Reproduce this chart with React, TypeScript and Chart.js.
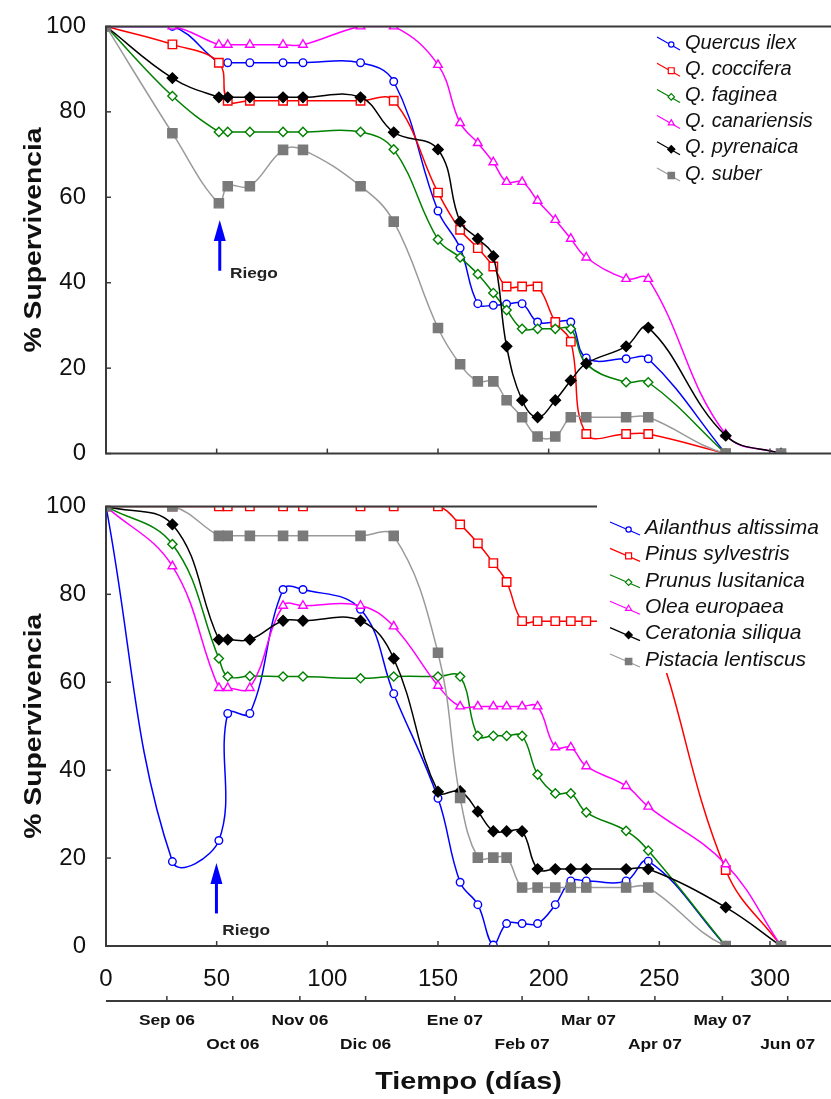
import React, { useEffect, useRef } from 'react';
import { Chart, registerables } from 'chart.js';

Chart.register(...registerables);

// ---------- DATA ----------
const days = [0, 30, 51, 55, 65, 80, 89, 115, 130, 150, 160, 168, 175, 181, 188, 195, 203, 210, 217, 235, 245, 280, 305];

// Top panel (Quercus)
const quercusIlex = [100, 100, 91.5, 91.5, 91.5, 91.5, 91.5, 91.5, 87.1, 56.8, 48.1, 35.1, 34.7, 35, 35.1, 30.8, 30.8, 30.8, 22.4, 22.2, 22.2, 0, null];
const qCoccifera = [100, 95.8, 91.5, 82.6, 82.6, 82.6, 82.6, 82.6, 82.6, 61.1, 52.4, 48.1, 43.8, 39.1, 39.1, 39.1, 30.8, 26.2, 4.6, 4.6, 4.6, 0, null];
const qFaginea = [100, 83.7, 75.3, 75.3, 75.3, 75.3, 75.3, 75.3, 71.2, 50.1, 45.9, 42, 37.6, 33.6, 29.2, 29.2, 29.2, 29.2, 21, 16.7, 16.7, 0, null];
const qCanariensis = [100, 100, 95.7, 95.7, 95.7, 95.7, 95.7, 100, 100, 91, 77.4, 72.7, 68.2, 63.6, 63.6, 59.2, 54.7, 50.3, 45.9, 40.9, 40.9, 4.5, 0];
const qPyrenaica = [100, 87.9, 83.4, 83.4, 83.4, 83.4, 83.4, 83.4, 75.2, 71.2, 54.3, 50.3, 46.2, 25.1, 12.5, 8.5, 12.5, 17.1, 21.1, 25.1, 29.5, 4.2, 0];
const qSuber = [100, 75, 58.6, 62.6, 62.6, 71.1, 71.1, 62.6, 54.3, 29.4, 20.9, 16.9, 16.9, 12.5, 8.5, 4, 4, 8.5, 8.5, 8.5, 8.5, 0, 0];

// Bottom panel (other species)
const ailanthus = [100, 19.2, 24, 52.9, 52.9, 81.1, 81.1, 76.6, 57.4, 33.6, 14.5, 9.4, 0.2, 5.1, 5.1, 5.1, 9.4, 14.8, 14.8, 14.8, 19.3, 0, null];
const pinus = [100, 100, 100, 100, 100, 100, 100, 100, 100, 100, 95.9, 91.6, 87.1, 82.8, 73.9, 73.9, 73.9, 73.9, 73.9, 73.9, 73.9, 17.3, 0];
const prunus = [100, 91.4, 65.4, 61.3, 61.4, 61.3, 61.3, 60.9, 61.3, 61.3, 61.3, 47.8, 47.8, 47.8, 47.8, 39, 34.7, 34.7, 30.4, 26.2, 21.7, 0, null];
const olea = [100, 86.4, 58.7, 58.7, 58.7, 77.4, 77.4, 77.4, 72.7, 59.2, 54.5, 54.5, 54.5, 54.5, 54.5, 54.5, 45.2, 45.2, 40.9, 36.4, 31.7, 18.6, 0];
const ceratonia = [100, 95.9, 69.7, 69.7, 69.7, 74, 74, 74, 65.4, 35.1, 35.2, 30.6, 26.1, 26.1, 26.1, 17.5, 17.5, 17.5, 17.5, 17.5, 17.5, 8.8, 0];
const pistacia = [100, 100, 93.3, 93.3, 93.3, 93.3, 93.3, 93.3, 93.3, 66.7, 33.7, 20.1, 20.1, 20.1, 13.3, 13.3, 13.3, 13.3, 13.3, 13.3, 13.3, 0, 0];

const topLabels = ['Quercus ilex', 'Q. coccifera', 'Q. faginea', 'Q. canariensis', 'Q. pyrenaica', 'Q. suber'];
const bottomLabels = ['Ailanthus altissima', 'Pinus sylvestris', 'Prunus lusitanica', 'Olea europaea', 'Ceratonia siliqua', 'Pistacia lentiscus'];

const monthLabels = ['Sep 06', 'Oct 06', 'Nov 06', 'Dic 06', 'Ene 07', 'Feb 07', 'Mar 07', 'Apr 07', 'May 07', 'Jun 07'];
const monthDays = [27.5, 57.3, 87.6, 117.3, 157.6, 188, 218, 248, 278.5, 308];

const yTitle = '% Supervivencia';
const xTitle = 'Tiempo (días)';
const riegoLabel = 'Riego';
// irrigation annotation: [day, arrow tip value, arrow tail value, text day, text baseline value]
const riegoTop = [51.4, 54.7, 42.8, 56, 41];
const riegoBottom = [49.9, 18.9, 7.4, 52.5, 2.5];

// ---------- STYLE ----------
const FONT = '"Liberation Sans", Arial, sans-serif';
const W = 831;
const TOP_H = 480;
const BOT_H = 619;
const PLOT_TOP = 21;
const LEFT = 106;
const X_MAX = 324;
const AXIS_COLOR = '#3a3a3a';

const styles = [
  { color: '#0000ff', line: '#0000ff', style: 'circle', hollow: true, r: 3.8 },
  { color: '#ff0000', line: '#ff0000', style: 'rect', hollow: true, r: 6 },
  { color: '#008000', line: '#008000', style: 'rectRot', hollow: true, r: 4.6 },
  { color: '#ff00ff', line: '#ff00ff', style: 'triangle', hollow: true, r: 5 },
  { color: '#000000', line: '#000000', style: 'rectRot', hollow: false, r: 5.2 },
  { color: '#7a7a7a', line: '#9a9a9a', style: 'rect', hollow: false, r: 6.5 },
];

function buildDatasets(labels, valueLists) {
  return valueLists.map((vals, i) => {
    const s = styles[i];
    return {
      label: labels[i],
      data: days.map((d, j) => ({ x: d, y: vals[j] })),
      borderColor: s.line,
      backgroundColor: s.hollow ? '#ffffff' : s.color,
      pointBorderColor: s.color,
      pointBackgroundColor: s.hollow ? '#ffffff' : s.color,
      pointStyle: s.style,
      pointRadius: s.r,
      pointHoverRadius: s.r,
      pointBorderWidth: 1.4,
      borderWidth: 1.5,
      tension: 0.4,
      fill: false,
      spanGaps: false,
      order: valueLists.length - i,
    };
  });
}

function drawMarker(ctx, style, x, y, r, color, hollow) {
  ctx.save();
  ctx.beginPath();
  if (style === 'circle') {
    ctx.arc(x, y, r, 0, Math.PI * 2);
  } else if (style === 'rect') {
    const s = r * Math.SQRT1_2;
    ctx.rect(x - s, y - s, 2 * s, 2 * s);
  } else if (style === 'rectRot') {
    ctx.moveTo(x - r, y);
    ctx.lineTo(x, y - r);
    ctx.lineTo(x + r, y);
    ctx.lineTo(x, y + r);
    ctx.closePath();
  } else {
    const h = r * 1.5;
    const w = r * Math.sqrt(3) / 2;
    ctx.moveTo(x, y - r);
    ctx.lineTo(x + w, y - r + h);
    ctx.lineTo(x - w, y - r + h);
    ctx.closePath();
  }
  ctx.fillStyle = hollow ? '#ffffff' : color;
  ctx.fill();
  ctx.strokeStyle = color;
  ctx.lineWidth = 1.2;
  ctx.stroke();
  ctx.restore();
}

function stretchedText(ctx, text, x, y, font, sx, align, color, rotate) {
  ctx.save();
  ctx.font = font;
  ctx.fillStyle = color;
  ctx.textAlign = align;
  ctx.textBaseline = 'alphabetic';
  ctx.translate(x, y);
  if (rotate) ctx.rotate(rotate);
  ctx.scale(sx, 1);
  ctx.fillText(text, 0, 0);
  ctx.restore();
}

function makePlugin(cfg) {
  return {
    id: 'decor_' + cfg.name,
    afterDraw(chart) {
      const ctx = chart.ctx;
      const { left, top, bottom } = chart.chartArea;
      const xs = chart.scales.x;
      const ys = chart.scales.y;
      const right = chart.width;

      // frame
      ctx.save();
      ctx.strokeStyle = AXIS_COLOR;
      ctx.lineWidth = 2;
      ctx.beginPath();
      ctx.moveTo(right, top);
      ctx.lineTo(left, top);
      ctx.lineTo(left, bottom);
      ctx.lineTo(right, bottom);
      ctx.stroke();
      // inward ticks
      ctx.lineWidth = 1.5;
      ys.ticks.forEach((t) => {
        const py = ys.getPixelForValue(t.value);
        ctx.beginPath();
        ctx.moveTo(left, py);
        ctx.lineTo(left + 5, py);
        ctx.stroke();
      });
      xs.ticks.forEach((t) => {
        const px = xs.getPixelForValue(t.value);
        ctx.beginPath();
        ctx.moveTo(px, bottom);
        ctx.lineTo(px, bottom - 5);
        ctx.stroke();
      });
      ctx.restore();

      // irrigation arrow
      const [ad, tipV, tailV, td, tv] = cfg.riego;
      const ax = xs.getPixelForValue(ad);
      const tipY = ys.getPixelForValue(tipV);
      const tailY = ys.getPixelForValue(tailV);
      ctx.save();
      ctx.strokeStyle = '#0000ff';
      ctx.fillStyle = '#0000ff';
      ctx.lineWidth = 3;
      ctx.beginPath();
      ctx.moveTo(ax, tailY);
      ctx.lineTo(ax, tipY + 14);
      ctx.stroke();
      ctx.beginPath();
      ctx.moveTo(ax, tipY);
      ctx.lineTo(ax + 6, tipY + 21);
      ctx.lineTo(ax - 6, tipY + 21);
      ctx.closePath();
      ctx.fill();
      ctx.restore();
      stretchedText(ctx, riegoLabel, xs.getPixelForValue(td), ys.getPixelForValue(tv), 'bold 15px ' + FONT, 1.15, 'left', '#222222', 0);

      // y title
      stretchedText(ctx, yTitle, 41, (top + bottom) / 2, 'bold 24px ' + FONT, 1.18, 'center', '#111111', -Math.PI / 2);

      // legend
      const lg = cfg.legend;
      ctx.save();
      if (lg.box) {
        ctx.fillStyle = '#ffffff';
        ctx.fillRect(lg.box[0], lg.box[1], lg.box[2], lg.box[3]);
      }
      cfg.labels.forEach((lab, i) => {
        const s = styles[i];
        const cy = lg.y0 + lg.dy * i;
        ctx.strokeStyle = s.line;
        ctx.lineWidth = 1.2;
        ctx.beginPath();
        ctx.moveTo(lg.lx, cy - 6);
        ctx.lineTo(lg.lx + lg.len, cy + 7);
        ctx.stroke();
        drawMarker(ctx, s.style, lg.lx + lg.len * 0.62, cy + 1.5, s.r * 0.7, s.color, s.hollow);
        ctx.font = 'italic ' + lg.size + 'px ' + FONT;
        ctx.fillStyle = '#111111';
        ctx.textAlign = 'left';
        ctx.textBaseline = 'middle';
        ctx.fillText(lab, lg.tx, cy);
      });
      ctx.restore();

      // secondary month axis
      if (cfg.months) {
        const ly = cfg.months.lineY;
        ctx.save();
        ctx.strokeStyle = AXIS_COLOR;
        ctx.lineWidth = 2;
        ctx.beginPath();
        ctx.moveTo(left, ly);
        ctx.lineTo(right, ly);
        ctx.stroke();
        ctx.lineWidth = 1.5;
        monthDays.forEach((d) => {
          const px = xs.getPixelForValue(d);
          ctx.beginPath();
          ctx.moveTo(px, ly);
          ctx.lineTo(px, ly - 5);
          ctx.stroke();
        });
        ctx.restore();
        monthDays.forEach((d, i) => {
          const px = xs.getPixelForValue(d);
          const by = i % 2 === 0 ? cfg.months.row1 : cfg.months.row2;
          stretchedText(ctx, monthLabels[i], px, by, 'bold 14px ' + FONT, 1.24, 'center', '#111111', 0);
        });
        stretchedText(ctx, xTitle, (left + right) / 2, cfg.months.titleY, 'bold 24px ' + FONT, 1.2, 'center', '#111111', 0);
      }
    },
  };
}

function makeConfig(datasets, plugin, height, plotBottom, showXLabels) {
  return {
    type: 'line',
    data: { datasets },
    options: {
      animation: false,
      responsive: false,
      maintainAspectRatio: false,
      events: [],
      layout: { padding: { top: PLOT_TOP, left: 0, right: 0, bottom: 0 } },
      plugins: { legend: { display: false }, tooltip: { enabled: false }, title: { display: false } },
      scales: {
        x: {
          type: 'linear',
          min: 0,
          max: X_MAX,
          grid: { display: false },
          border: { display: false },
          ticks: {
            display: showXLabels,
            stepSize: 50,
            includeBounds: false,
            maxRotation: 0,
            autoSkip: false,
            padding: 11,
            color: '#111111',
            font: { family: FONT, size: 24 },
          },
          afterFit: (s) => {
            s.height = height - plotBottom;
          },
        },
        y: {
          min: 0,
          max: 100,
          grid: { display: false },
          border: { display: false },
          ticks: {
            stepSize: 20,
            padding: 12,
            color: '#111111',
            font: { family: FONT, size: 24 },
          },
          afterFit: (s) => {
            s.width = LEFT;
          },
        },
      },
    },
    plugins: [plugin],
  };
}

export default function App() {
  const topRef = useRef(null);
  const botRef = useRef(null);

  useEffect(() => {
    document.body.style.margin = '0';
    const topPlugin = makePlugin({
      name: 'top',
      riego: riegoTop,
      labels: topLabels,
      legend: { lx: 657, len: 23, tx: 685, y0: 43, dy: 26.2, size: 20, box: null },
      months: null,
    });
    const botPlugin = makePlugin({
      name: 'bottom',
      riego: riegoBottom,
      labels: bottomLabels,
      legend: { lx: 610, len: 30, tx: 645, y0: 48, dy: 26.4, size: 21, box: [597, 25, 234, 168] },
      months: { lineY: 521, row1: 545, row2: 569, titleY: 609 },
    });
    const topChart = new Chart(
      topRef.current,
      makeConfig(
        buildDatasets(topLabels, [quercusIlex, qCoccifera, qFaginea, qCanariensis, qPyrenaica, qSuber]),
        topPlugin,
        TOP_H,
        460,
        false
      )
    );
    const botChart = new Chart(
      botRef.current,
      makeConfig(
        buildDatasets(bottomLabels, [ailanthus, pinus, prunus, olea, ceratonia, pistacia]),
        botPlugin,
        BOT_H,
        466,
        true
      )
    );
    return () => {
      topChart.destroy();
      botChart.destroy();
    };
  }, []);

  return (
    <div style={{ position: 'relative', width: W, height: TOP_H + BOT_H, background: '#ffffff' }}>
      <canvas ref={topRef} width={W} height={TOP_H} style={{ position: 'absolute', left: 0, top: 0, width: W, height: TOP_H }} />
      <canvas ref={botRef} width={W} height={BOT_H} style={{ position: 'absolute', left: 0, top: TOP_H, width: W, height: BOT_H }} />
    </div>
  );
}
